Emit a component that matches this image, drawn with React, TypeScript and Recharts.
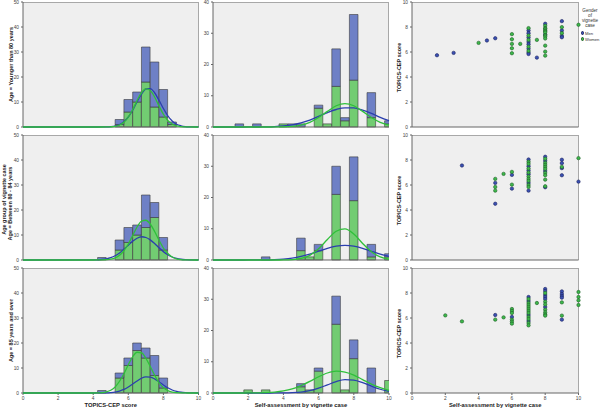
import React from 'react';
import { ComposedChart, LineChart, ScatterChart, Bar, Line, Scatter, XAxis, YAxis } from 'recharts';

// ---- histogram bins (TOPICS-CEP score), bin centres ----
const scoreBins = [4.5, 5, 5.5, 6, 6.5, 7, 7.5, 8, 8.5];
const scoreWomenR1 = [0, 0, 1, 6, 10, 18, 8, 4, 1];
const scoreMenR1 = [0, 0, 2, 5, 4, 14, 18, 11, 1];
const scoreWomenR2 = [0, 0, 4, 7, 10, 13, 17, 4, 0];
const scoreMenR2 = [1, 0, 4, 6, 4, 13, 6, 5, 0];
const scoreWomenR3 = [0, 0, 6, 11, 17, 14, 7, 2, 0];
const scoreMenR3 = [1, 0, 2, 3, 3, 4, 8, 4, 0];

// normal curves
const scoreCurveX = [0, 4, 4.25, 4.5, 4.75, 5, 5.25, 5.5, 5.75, 6, 6.25, 6.5, 6.75, 7, 7.25, 7.5, 7.75, 8, 8.25, 8.5, 8.75, 9, 9.25, 9.5, 9.75, 10];
const scoreCurveMenR1 = [0, 0, 0, 0.01, 0.04, 0.14, 0.39, 0.96, 2.1, 4.0, 6.7, 10.1, 13.1, 15.2, 15.35, 13.7, 10.7, 7.4, 4.5, 2.4, 1.1, 0.48, 0.17, 0.05, 0.01, 0];
const scoreCurveWomenR1 = [0, 0, 0, 0, 0.02, 0.09, 0.29, 0.81, 1.9, 4.0, 7.0, 10.6, 13.7, 15.25, 14.6, 12.0, 8.4, 5.1, 2.6, 1.2, 0.44, 0.15, 0.04, 0.01, 0, 0];
const scoreCurveMenR2 = [0, 0.04, 0.09, 0.22, 0.47, 0.94, 1.7, 2.8, 4.3, 5.9, 7.5, 8.7, 9.3, 9.0, 8.05, 6.6, 4.9, 3.35, 2.1, 1.2, 0.63, 0.3, 0.13, 0.05, 0.02, 0];
const scoreCurveWomenR2 = [0, 0, 0.01, 0.03, 0.11, 0.32, 0.83, 1.9, 3.7, 6.4, 9.8, 13.2, 15.5, 15.9, 14.4, 11.4, 7.9, 4.8, 2.6, 1.2, 0.49, 0.18, 0.06, 0.02, 0, 0];
const scoreCurveMenR3 = [0, 0, 0.01, 0.02, 0.06, 0.17, 0.37, 0.78, 1.43, 2.4, 3.6, 4.8, 5.9, 6.45, 6.35, 5.65, 4.5, 3.2, 2.1, 1.2, 0.63, 0.3, 0.13, 0.05, 0.02, 0];
const scoreCurveWomenR3 = [0, 0.01, 0.05, 0.16, 0.46, 1.1, 2.4, 4.7, 7.7, 11.3, 14.5, 16.3, 16.1, 13.9, 10.6, 7.1, 4.1, 2.1, 0.94, 0.38, 0.13, 0.04, 0.01, 0, 0, 0];

// ---- histogram bins (self-assessment) ----
const selfBins = [1.5, 2, 2.5, 3, 3.5, 4, 4.5, 5, 5.5, 6, 6.5, 7, 7.5, 8, 8.5, 9, 9.5, 10];
const selfWomenR1 = [0, 0, 0, 0, 0, 1, 0, 0, 0, 6, 1, 13, 2, 15, 0, 3, 0, 1];
const selfMenR1 = [1, 0, 1, 0, 0, 0, 1, 1, 0, 1, 0, 12, 1, 21, 0, 8, 0, 1];
const selfWomenR2 = [0, 0, 0, 0, 0, 0, 0, 3, 1, 3, 0, 21, 0, 19, 0, 1, 0, 1];
const selfMenR2 = [0, 0, 0, 1, 0, 0, 0, 4, 0, 2, 0, 9, 0, 14, 0, 4, 0, 1];
const selfWomenR3 = [0, 1, 0, 1, 0, 0, 0, 2, 1, 7, 0, 22, 1, 11, 0, 0, 0, 4];
const selfMenR3 = [0, 0, 0, 0, 0, 0, 0, 1, 0, 1, 0, 9, 0, 6, 0, 8, 0, 0];

const selfCurveX = [0, 0.5, 1, 1.5, 2, 2.5, 3, 3.5, 4, 4.5, 5, 5.5, 6, 6.5, 7, 7.5, 8, 8.5, 9, 9.5, 10];
const selfCurveMenR1 = [0, 0, 0, 0, 0.01, 0.02, 0.06, 0.15, 0.35, 0.71, 1.34, 2.2, 3.4, 4.6, 5.6, 6.15, 6.1, 5.4, 4.35, 3.1, 2.05];
const selfCurveWomenR1 = [0, 0, 0, 0, 0, 0, 0, 0.01, 0.04, 0.21, 0.62, 1.5, 3.05, 5.0, 6.8, 7.5, 6.8, 5.0, 3.05, 1.5, 0.62];
const selfCurveMenR2 = [0, 0, 0, 0, 0.01, 0.02, 0.05, 0.13, 0.3, 0.62, 1.15, 1.9, 2.8, 3.75, 4.45, 4.7, 4.45, 3.75, 2.8, 1.9, 1.15];
const selfCurveWomenR2 = [0, 0, 0, 0, 0, 0, 0, 0, 0.02, 0.13, 0.5, 1.5, 3.6, 6.55, 9.2, 9.95, 8.3, 5.3, 2.65, 1.0, 0.3];
const selfCurveMenR3 = [0, 0, 0, 0, 0, 0, 0, 0.01, 0.03, 0.11, 0.31, 0.76, 1.55, 2.6, 3.65, 4.26, 4.1, 3.3, 2.2, 1.2, 0.56];
const selfCurveWomenR3 = [0, 0, 0, 0, 0.01, 0.04, 0.11, 0.28, 0.65, 1.3, 2.35, 3.7, 5.2, 6.4, 7.0, 6.7, 5.75, 4.3, 2.85, 1.7, 0.87];

// ---- scatter points [self-assessment, TOPICS-CEP score] ----
const pointsMenR1 = [[1.5, 5.74], [2.5, 5.93], [4.5, 6.92], [5, 7.1], [7, 7.72], [7, 7.51], [7, 7.16], [7, 6.81], [7, 6.62], [7, 6.27], [7, 5.95], [7, 5.84], [7.5, 5.55], [8, 8.26], [8, 7.4], [9, 8.47], [9, 7.72], [9, 7.29], [9, 7.18]];
const pointsWomenR1 = [[4, 6.73], [6, 7.43], [6, 7.02], [6, 6.65], [6, 6.3], [6, 5.9], [6.5, 6.65], [7, 7.91], [7, 7.32], [7, 6.97], [7, 6.43], [7, 6.09], [7.5, 6.97], [8, 8.1], [8, 7.91], [8, 7.85], [8, 7.72], [8, 7.65], [8, 7.56], [8, 7.35], [8, 7.24], [8, 7.08], [8, 6.51], [8, 6.03], [8, 5.71], [9, 7.99], [9, 7.51], [10, 8.18]];
const pointsMenR2 = [[3, 7.56], [5, 6.17], [5, 4.5], [6, 6.81], [6, 5.71], [7, 8.04], [7, 7.51], [7, 7.16], [7, 6.86], [7, 6.17], [7, 5.55], [8, 8.26], [8, 7.94], [8, 7.13], [8, 5.82], [9, 8.02], [9, 7.75], [9, 7.35], [9, 6.78], [10, 6.27]];
const pointsWomenR2 = [[5, 6.49], [5, 5.84], [5, 5.55], [5.5, 6.89], [6, 7.05], [6, 6.03], [7, 7.86], [7, 7.69], [7, 7.32], [7, 7.0], [7, 6.68], [7, 6.49], [7, 6.33], [7, 6.0], [7, 5.84], [8, 8.1], [8, 7.77], [8, 7.61], [8, 7.45], [8, 7.29], [8, 6.97], [8, 6.78], [8, 6.43], [8, 5.9], [9, 7.45], [10, 8.15]];
const pointsMenR3 = [[5, 6.24], [6, 6.08], [7, 7.68], [7, 7.36], [7, 6.24], [7, 5.76], [8, 8.32], [8, 8.16], [8, 7.84], [8, 7.68], [8, 7.52], [8, 6.88], [9, 8.13], [9, 7.92], [9, 7.76], [9, 7.63], [9, 5.87]];
const pointsWomenR3 = [[2, 6.21], [3, 5.73], [5, 5.87], [5.5, 6.05], [6, 6.72], [6, 6.56], [6, 6.4], [6, 5.87], [6, 5.71], [6, 5.55], [7, 7.52], [7, 7.2], [7, 7.04], [7, 6.88], [7, 6.72], [7, 6.56], [7, 6.4], [7, 6.08], [7, 5.92], [7, 5.6], [7, 5.41], [7.5, 7.2], [8, 8.0], [8, 7.31], [8, 7.09], [8, 6.67], [8, 6.45], [8, 6.29], [8, 6.19], [9, 7.25], [9, 6.19], [10, 8.08], [10, 7.68], [10, 7.41], [10, 7.04]];

const xTicks = [0, 2, 4, 6, 8, 10];
const scoreYTicks = [0, 10, 20, 30, 40, 50];
const selfYTicks = [0, 10, 20, 30, 40];
const scatterYTicks = [0, 2, 4, 6, 8, 10];

const rowLabels = ['Age = Younger than 80 years', 'Age = Between 80 - 84 years', 'Age = 85 years and over'];
const colTitles = ['TOPICS-CEP score', 'Self-assessment by vignette case', 'Self-assessment by vignette case'];

const FONT = '"Liberation Sans", Arial, sans-serif';
const BLUE_BAR = '#6e80c6';
const GREEN_BAR = '#72cc72';
const BLUE_LINE = '#2b3fae';
const GREEN_LINE = '#2fc03a';
const BLUE_DOT = '#3a50b2';
const GREEN_DOT = '#3cb84a';

const COLS = [
  { left: 23, width: 175.5 },
  { left: 213, width: 176 },
  { left: 412, width: 166.5 },
];
const ROWS = [2, 135, 268];
const PLOT_H = 125;
const PAD_L = 20;
const PAD_T = 3;
const PAD_R = 8;
const AXIS_H = 10;

const tickStyle = { fontSize: 4.8, fill: '#444' };

function box(col: number, row: number): React.CSSProperties {
  return { position: 'absolute', left: COLS[col].left - PAD_L, top: ROWS[row] - PAD_T };
}

function HistPanel(props: any) {
  const { col, row, bins, women, men, curveX, curveMen, curveWomen, yMax, yTicks } = props;
  const W = COLS[col].width + PAD_L + PAD_R;
  const H = PLOT_H + PAD_T + AXIS_H;
  const showX = row === 2;
  const barData = bins.map((x: number, i: number) => ({ x, women: women[i], men: men[i] }));
  const curveData = curveX.map((x: number, i: number) => ({ x, men: curveMen[i], women: curveWomen[i] }));
  return (
    <>
      <div style={box(col, row)}>
        <ComposedChart width={W} height={H} data={barData} margin={{ top: PAD_T, right: PAD_R, left: 0, bottom: 0 }}>
          <XAxis type="number" dataKey="x" domain={[0, 10]} ticks={xTicks} allowDataOverflow height={AXIS_H}
            tick={showX ? tickStyle : false} tickLine={showX} tickSize={2} stroke="#666" />
          <YAxis type="number" domain={[0, yMax]} ticks={yTicks} width={PAD_L} tickSize={2} tick={tickStyle} stroke="#666" />
          <Bar dataKey="women" stackId="s" fill={GREEN_BAR} stroke="#3a3a3a" strokeWidth={0.6} barSize={8.6} isAnimationActive={false} />
          <Bar dataKey="men" stackId="s" fill={BLUE_BAR} stroke="#3a3a3a" strokeWidth={0.6} barSize={8.6} isAnimationActive={false} />
        </ComposedChart>
      </div>
      <div style={box(col, row)}>
        <LineChart width={W} height={H} data={curveData} margin={{ top: PAD_T, right: PAD_R, left: PAD_L, bottom: AXIS_H }}>
          <XAxis type="number" dataKey="x" domain={[0, 10]} hide />
          <YAxis type="number" domain={[0, yMax]} hide />
          <Line dataKey="men" type="monotone" stroke={BLUE_LINE} strokeWidth={1.3} dot={false} isAnimationActive={false} />
          <Line dataKey="women" type="monotone" stroke={GREEN_LINE} strokeWidth={1.3} dot={false} isAnimationActive={false} />
        </LineChart>
      </div>
    </>
  );
}

function dotShape(color: string, edge: string) {
  return (p: any) => <circle cx={p.cx} cy={p.cy} r={1.7} fill={color} stroke={edge} strokeWidth={0.6} />;
}

function ScatterPanel({ row, men, women }: any) {
  const W = COLS[2].width + PAD_L + PAD_R;
  const H = PLOT_H + PAD_T + AXIS_H;
  const showX = row === 2;
  const menData = men.map(([x, y]: number[]) => ({ x, y }));
  const womenData = women.map(([x, y]: number[]) => ({ x, y }));
  return (
    <div style={box(2, row)}>
      <ScatterChart width={W} height={H} margin={{ top: PAD_T, right: PAD_R, left: 0, bottom: 0 }}>
        <XAxis type="number" dataKey="x" domain={[0, 10]} ticks={xTicks} height={AXIS_H}
          tick={showX ? tickStyle : false} tickLine={showX} tickSize={2} stroke="#666" />
        <YAxis type="number" dataKey="y" domain={[0, 10]} ticks={scatterYTicks} width={PAD_L} tickSize={2} tick={tickStyle} stroke="#666" />
        <Scatter data={menData} fill={BLUE_DOT} shape={dotShape(BLUE_DOT, '#1c2460')} isAnimationActive={false} />
        <Scatter data={womenData} fill={GREEN_DOT} shape={dotShape(GREEN_DOT, '#1f5e26')} isAnimationActive={false} />
      </ScatterChart>
    </div>
  );
}

function VLabel({ text, x, y }: { text: string; x: number; y: number }) {
  return (
    <div style={{
      position: 'absolute', left: x - 70, top: y - 3.5, width: 140, height: 7, lineHeight: '7px',
      textAlign: 'center', fontSize: 5.5, fontWeight: 'bold', color: '#222', whiteSpace: 'nowrap',
      transform: 'rotate(-90deg)',
    }}>{text}</div>
  );
}

export default function App() {
  const scoreWomen = [scoreWomenR1, scoreWomenR2, scoreWomenR3];
  const scoreMen = [scoreMenR1, scoreMenR2, scoreMenR3];
  const scoreCurveMen = [scoreCurveMenR1, scoreCurveMenR2, scoreCurveMenR3];
  const scoreCurveWomen = [scoreCurveWomenR1, scoreCurveWomenR2, scoreCurveWomenR3];
  const selfWomen = [selfWomenR1, selfWomenR2, selfWomenR3];
  const selfMen = [selfMenR1, selfMenR2, selfMenR3];
  const selfCurveMen = [selfCurveMenR1, selfCurveMenR2, selfCurveMenR3];
  const selfCurveWomen = [selfCurveWomenR1, selfCurveWomenR2, selfCurveWomenR3];
  const pointsMen = [pointsMenR1, pointsMenR2, pointsMenR3];
  const pointsWomen = [pointsWomenR1, pointsWomenR2, pointsWomenR3];

  return (
    <div style={{ position: 'absolute', left: 0, top: 0, width: 600, height: 410, background: '#fff', fontFamily: FONT, overflow: 'hidden' }}>
      {ROWS.map((top, r) => COLS.map((c, ci) => (
        <div key={`bg${r}${ci}`} style={{
          position: 'absolute', left: c.left, top, width: c.width, height: PLOT_H,
          background: '#efefef', border: '1px solid #a8a8a8', borderLeft: 'none', borderBottom: 'none', boxSizing: 'border-box',
        }} />
      )))}

      {[0, 1, 2].map((r) => (
        <React.Fragment key={`row${r}`}>
          <HistPanel col={0} row={r} bins={scoreBins} women={scoreWomen[r]} men={scoreMen[r]}
            curveX={scoreCurveX} curveMen={scoreCurveMen[r]} curveWomen={scoreCurveWomen[r]} yMax={50} yTicks={scoreYTicks} />
          <HistPanel col={1} row={r} bins={selfBins} women={selfWomen[r]} men={selfMen[r]}
            curveX={selfCurveX} curveMen={selfCurveMen[r]} curveWomen={selfCurveWomen[r]} yMax={40} yTicks={selfYTicks} />
          <ScatterPanel row={r} men={pointsMen[r]} women={pointsWomen[r]} />
        </React.Fragment>
      ))}

      <VLabel text={rowLabels[0]} x={10.5} y={ROWS[0] + PLOT_H / 2} />
      <VLabel text="Age group of vignette case" x={4} y={ROWS[1] + PLOT_H / 2 + 2} />
      <VLabel text={rowLabels[1]} x={10} y={ROWS[1] + PLOT_H / 2 + 6} />
      <VLabel text={rowLabels[2]} x={10.5} y={ROWS[2] + PLOT_H / 2} />
      {ROWS.map((top, r) => (
        <VLabel key={`yt${r}`} text="TOPICS-CEP score" x={398.5} y={top + PLOT_H / 2 + 3} />
      ))}

      {colTitles.map((t, i) => (
        <div key={`xt${i}`} style={{
          position: 'absolute', left: COLS[i].left + COLS[i].width / 2 - 80, top: 401, width: 160,
          textAlign: 'center', fontSize: 5.8, fontWeight: 'bold', color: '#222', lineHeight: '8px', whiteSpace: 'nowrap',
        }}>{t}</div>
      ))}

      <div style={{ position: 'absolute', left: 578, top: 7.5, width: 24, textAlign: 'center', fontSize: 4.6, lineHeight: '5px', color: '#333' }}>
        Gender<br />of<br />vignette<br />case
      </div>
      <div style={{ position: 'absolute', left: 580.8, top: 31.3, width: 3.4, height: 3.4, borderRadius: '50%', background: BLUE_DOT, boxSizing: 'border-box', border: '0.6px solid #1c2460' }} />
      <div style={{ position: 'absolute', left: 585, top: 30.5, fontSize: 4.2, lineHeight: '5px', color: '#333' }}>Men</div>
      <div style={{ position: 'absolute', left: 580.8, top: 37.3, width: 3.4, height: 3.4, borderRadius: '50%', background: GREEN_DOT, boxSizing: 'border-box', border: '0.6px solid #1f5e26' }} />
      <div style={{ position: 'absolute', left: 585, top: 36.5, fontSize: 4.2, lineHeight: '5px', color: '#333', whiteSpace: 'nowrap' }}>Women</div>
    </div>
  );
}
